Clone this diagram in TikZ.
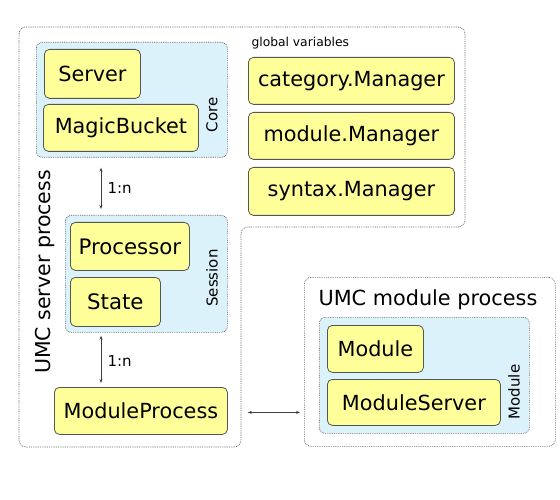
\documentclass[tikz,border=0pt]{standalone}
\usepackage{fontspec}
\setmainfont{DejaVu Sans}
\usetikzlibrary{arrows.meta}
\definecolor{ylw}{HTML}{FFFF99}
\definecolor{blu}{HTML}{DCF2FB}
\definecolor{brd}{HTML}{555555}
\definecolor{dotc}{HTML}{6A6A6A}
\tikzset{
  ybox/.style={draw=brd, line width=0.8pt, fill=ylw, rounded corners=5pt, inner sep=0pt, anchor=north west, font=\fontsize{20.8}{24}\selectfont},
  bluebox/.style={draw=dotc, line width=0.7pt, dash pattern=on 0.9pt off 0.9pt, fill=blu, rounded corners=6pt, inner sep=0pt, anchor=north west},
  procbox/.style={draw=dotc, line width=0.7pt, dash pattern=on 0.9pt off 0.9pt, fill=white, rounded corners=7pt},
  grplabel/.style={rotate=90, font=\fontsize{15}{18}\selectfont},
  arr/.style={draw=black!75, line width=0.6pt, {Stealth[length=4pt,width=3pt]}-{Stealth[length=4pt,width=3pt]}},
  smalllabel/.style={font=\fontsize{15}{17}\selectfont}
}
\begin{document}
\begin{tikzpicture}[x=1pt,y=-1pt]
\useasboundingbox (0,0) rectangle (560,500);
% server process outline
\draw[procbox] (19,27) -- (465,27) -- (465,227) -- (241,227) -- (241,447) -- (19,447) -- cycle;
\node[rotate=90, font=\fontsize{20.5}{24}\selectfont] (srvlabel) at (45,272) {UMC server process};
% core group
\node[bluebox, minimum width=191pt, minimum height=115pt] (core) at (36,42) {};
\node[ybox, minimum width=96pt, minimum height=49pt] (server) at (44,49) {Server};
\node[ybox, minimum width=155pt, minimum height=47pt] (magic) at (43,104) {MagicBucket};
\node[grplabel] (corelbl) at (212,115) {Core};
% session group
\node[bluebox, minimum width=162pt, minimum height=117pt] (session) at (65,215) {};
\node[ybox, minimum width=119pt, minimum height=48pt, font=\fontsize{21.3}{24}\selectfont] (processor) at (70,222) {Processor};
\node[ybox, minimum width=90pt, minimum height=49pt, font=\fontsize{21.3}{24}\selectfont] (state) at (70,277) {State};
\node[grplabel] (sesslbl) at (212,278) {Session};
% module process in server
\node[ybox, minimum width=173pt, minimum height=47pt] (mp) at (54,387) {ModuleProcess};
% global variables
\node[anchor=west, font=\fontsize{12.3}{14}\selectfont] (glob) at (248,43) {global variables};
\node[ybox, minimum width=206pt, minimum height=47pt] (cat) at (248,57) {category.Manager};
\node[ybox, minimum width=206pt, minimum height=47pt] (modm) at (248,112) {module.Manager};
\node[ybox, minimum width=206pt, minimum height=48pt] (syn) at (248,167) {syntax.Manager};
% arrows 1:n
\coordinate (ax) at (101,0);
\draw[arr, shorten <=10pt, shorten >=6pt] (core.south -| ax) -- (session.north -| ax);
\node[smalllabel, anchor=west] (l1) at (104,188) {1:n};
\draw[arr, shorten <=3pt, shorten >=4pt] (session.south -| ax) -- (mp.north -| ax);
\node[smalllabel, anchor=west] (l2) at (104,361) {1:n};
% UMC module process
\node[procbox, anchor=north west, minimum width=251pt, minimum height=169pt, inner sep=0pt] (modproc) at (304,277) {};
\node[anchor=west, font=\fontsize{20.8}{24}\selectfont] (modtitle) at (315,300) {UMC module process};
\node[bluebox, minimum width=210pt, minimum height=116pt] (modgrp) at (319,317) {};
\node[ybox, minimum width=96pt, minimum height=47pt] (module) at (327,325) {Module};
\node[ybox, minimum width=173pt, minimum height=46pt] (modsrv) at (327,379) {ModuleServer};
\node[grplabel] (modlbl) at (514,392) {Module};
% connection
\draw[arr, shorten <=20pt, shorten >=4pt] ([yshift=-1.5pt]mp.east) -- ([yshift=-1.5pt]mp.east -| modproc.west);
\end{tikzpicture}
\end{document}
